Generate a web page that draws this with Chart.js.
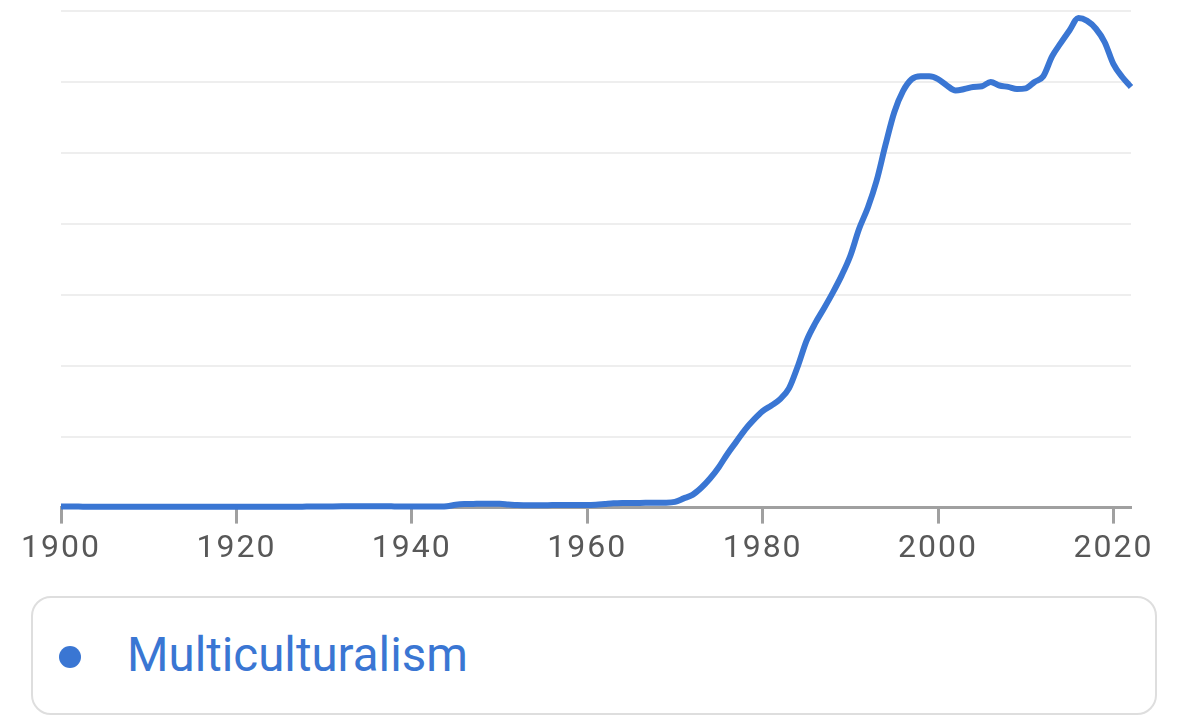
<!DOCTYPE html>
<html>
<head>
<meta charset="utf-8">
<script src="https://cdn.jsdelivr.net/npm/chart.js@4"></script>
<style>
  html, body { margin: 0; padding: 0; background: #fff; }
  body { width: 1199px; height: 723px; position: relative; overflow: hidden; font-family: Roboto, sans-serif; }
  #chart-box { position: absolute; left: 0; top: 0; width: 1199px; height: 574px; }
  #legend {
    position: absolute; left: 31px; top: 596px; width: 1122px; height: 115px;
    border: 2px solid #dedede; border-radius: 20px; box-sizing: content-box;
  }
  #legend .dot {
    position: absolute; left: 26px; top: 48px; width: 22px; height: 22px;
    border-radius: 50%; background: #3a76d3;
  }
  #legend .name {
    position: absolute; left: 94px; top: 29px; font-size: 47.5px; line-height: 56px; color: #3a76d3;
  }
</style>
</head>
<body>
<div id="chart-box"><canvas id="ngram"></canvas></div>
<div id="legend"><span class="dot"></span><span class="name">Multiculturalism</span></div>
<script>
const years = [];
for (let y = 1900; y <= 2022; y++) years.push(y);

// one value per year 1900..2022
const multiculturalism = [
  0.014, 0.014, 0.014, 0.013, 0.013, 0.012, 0.012, 0.012, 0.012, 0.012,
  0.012, 0.012, 0.012, 0.012, 0.012, 0.012, 0.012, 0.012, 0.012, 0.012,
  0.012, 0.012, 0.012, 0.012, 0.012, 0.012, 0.012, 0.013, 0.014, 0.015,
  0.016, 0.017, 0.018, 0.019, 0.019, 0.019, 0.018, 0.018, 0.017, 0.016,
  0.015, 0.015, 0.015, 0.016, 0.020, 0.040, 0.050, 0.052, 0.054, 0.055,
  0.054, 0.045, 0.036, 0.034, 0.033, 0.034, 0.035, 0.036, 0.036, 0.035,
  0.035, 0.040, 0.050, 0.060, 0.064, 0.065, 0.066, 0.068, 0.070, 0.070,
  0.080, 0.130, 0.180, 0.280, 0.410, 0.570, 0.760, 0.930, 1.100, 1.240,
  1.360, 1.440, 1.530, 1.680, 1.990, 2.350, 2.600, 2.810, 3.030, 3.270,
  3.550, 3.930, 4.230, 4.610, 5.110, 5.570, 5.870, 6.040, 6.080, 6.080,
  6.040, 5.950, 5.880, 5.900, 5.930, 5.940, 6.000, 5.950, 5.930, 5.900,
  5.910, 6.000, 6.080, 6.360, 6.550, 6.730, 6.900, 6.860, 6.750, 6.560,
  6.250, 6.070, 5.930
];

const xTicks = [1900, 1920, 1940, 1960, 1980, 2000, 2020];
const yGrid = [0, 1, 2, 3, 4, 5, 6, 7];

const lineColor = '#3a76d3';

const points = years.map((yr, i) => ({ x: yr, y: multiculturalism[i] }));

// wider spacing on the year labels, like the original
const spacedText = {
  id: 'spacedText',
  beforeDraw(chart) { chart.ctx.letterSpacing = '2px'; }
};

new Chart(document.getElementById('ngram'), {
  type: 'line',
  data: {
    datasets: [{
      label: 'Multiculturalism',
      data: points,
      borderColor: lineColor,
      borderWidth: 6,
      pointRadius: 0,
      tension: 0.4,
      cubicInterpolationMode: 'monotone',
      clip: false
    }]
  },
  options: {
    responsive: true,
    maintainAspectRatio: false,
    animation: false,
    layout: { padding: { left: 61, right: 68, top: 11, bottom: 0 } },
    plugins: { legend: { display: false }, tooltip: { enabled: false } },
    scales: {
      x: {
        type: 'linear',
        min: 1900,
        max: 2022,
        afterBuildTicks: s => { s.ticks = xTicks.map(v => ({ value: v })); },
        grid: { drawOnChartArea: false, drawTicks: true, tickLength: 16, tickWidth: 3, tickColor: '#a0a0a0' },
        border: { display: true, color: '#a0a0a0', width: 3 },
        ticks: {
          padding: 6,
          color: '#585858',
          font: { family: 'Roboto', size: 32 },
          maxRotation: 0,
          autoSkip: false,
          callback: v => String(v)
        }
      },
      y: {
        min: 0,
        max: 7,
        afterFit: s => { s.width = 0; },
        afterBuildTicks: s => { s.ticks = yGrid.map(v => ({ value: v })); },
        grid: { color: '#eeeeee', lineWidth: 2, drawTicks: false },
        border: { display: false },
        ticks: { display: false }
      }
    }
  },
  plugins: [spacedText]
});
</script>
</body>
</html>
